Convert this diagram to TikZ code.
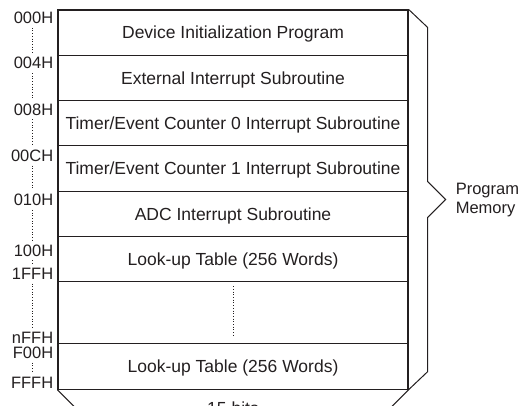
\documentclass[tikz,border=0pt]{standalone}
\usepackage{fontspec}
\setmainfont{Liberation Sans}
\usetikzlibrary{positioning,calc}
\definecolor{ink}{RGB}{35,31,32}

\begin{document}
\begin{tikzpicture}[x=1pt,y=-1pt,node distance=45.3pt,on grid,color=ink,
    cell/.style={draw=ink,line width=1.2pt,minimum width=350pt,minimum height=45.3pt,
        inner sep=0pt,text height=12.6pt,text depth=0pt,font=\fontsize{17.5}{21}\selectfont},
    addr/.style={inner sep=0pt,text height=12pt,text depth=0pt,font=\fontsize{16.5}{20}\selectfont},
    dots/.style={dotted,line width=0.7pt},
    brace/.style={line width=1pt,line join=miter}]
    \useasboundingbox (0,0) rectangle (522,406);
    \clip (0,0) rectangle (522,406);

    % memory rows
    \node[cell] (r_1) at (233,32.65) {Device Initialization Program};
    \node[cell] [below=of r_1] (r_2) {External Interrupt Subroutine};
    \node[cell] [below=of r_2] (r_3) {Timer/Event Counter 0 Interrupt Subroutine};
    \node[cell] [below=of r_3] (r_4) {Timer/Event Counter 1 Interrupt Subroutine};
    \node[cell] [below=of r_4] (r_5) {ADC Interrupt Subroutine};
    \node[cell] [below=of r_5] (r_6) {Look-up Table (256 Words)};
    \node[cell, minimum height=62pt] [below=53.65pt of r_6] (r_7) {};
    \node[cell] [below=53.65pt of r_7] (r_8) {Look-up Table (256 Words)};

    % addresses
    \node[addr, anchor=north east] (a_000) at ([shift={(-4,2)}]r_1.north west) {000H};
    \node[addr, anchor=north east] (a_004) at ([shift={(-4,2)}]r_2.north west) {004H};
    \node[addr, anchor=north east] (a_008) at ([shift={(-4,3)}]r_3.north west) {008H};
    \node[addr, anchor=north east] (a_00C) at ([shift={(-4,4)}]r_4.north west) {00CH};
    \node[addr, anchor=north east] (a_010) at ([shift={(-4,3)}]r_5.north west) {010H};
    \node[addr, anchor=north east] (a_100) at ([shift={(-4,8)}]r_6.north west) {100H};
    \node[addr, anchor=base east] (a_1FF) at ([shift={(-4,-3)}]r_6.south west) {1FFH};
    \node[addr, anchor=base east] (a_nFF) at ([shift={(-4,-1)}]r_7.south west) {nFFH};
    \node[addr, anchor=north east] (a_F00) at ([shift={(-4,3)}]r_8.north west) {F00H};
    \node[addr, anchor=base east] (a_FFF) at ([shift={(-4,-1)}]r_8.south west) {FFFH};

    \coordinate (dx) at ([xshift=-25pt]r_1.north west);
    \draw[dots] ([yshift=-4pt]a_000.south -| dx) -- ([yshift=4pt]a_004.north -| dx);
    \draw[dots] ([yshift=-4pt]a_004.south -| dx) -- ([yshift=4pt]a_008.north -| dx);
    \draw[dots] ([yshift=-4pt]a_008.south -| dx) -- ([yshift=4pt]a_00C.north -| dx);
    \draw[dots] ([yshift=-4pt]a_00C.south -| dx) -- ([yshift=4pt]a_010.north -| dx);
    \draw[dots] ([yshift=-4pt]a_010.south -| dx) -- ([yshift=4pt]a_100.north -| dx);
    \draw[dots] ([yshift=-4pt]a_100.south -| dx) -- ([yshift=4pt]a_1FF.north -| dx);
    \draw[dots] ([yshift=-4pt]a_1FF.south -| dx) -- ([yshift=4pt]a_nFF.north -| dx);
    \draw[dots] ([yshift=-4pt]a_F00.south -| dx) -- ([yshift=4pt]a_FFF.north -| dx);
    \draw[dots] ([yshift=-5pt]r_7.north) -- ([yshift=7pt]r_7.south);

    % braces
    \coordinate (tip) at ($(r_1.north east)!.5!(r_8.south east)+(37,0)$);
    \coordinate (btm) at ($(r_8.south west)!.5!(r_8.south east)$);
    \draw[brace] (r_1.north east) -- ++(19,18) -- ([shift={(-18,-18)}]tip) -- (tip)
        -- ([shift={(-18,18)}]tip) -- ([shift={(19,-18)}]r_8.south east) -- (r_8.south east);
    \draw[brace] (r_8.south east) -- ++(-30,30) -- ([shift={(18,30)}]btm) -- ([shift={(0,48)}]btm)
        -- ([shift={(-18,30)}]btm) -- ([shift={(30,30)}]r_8.south west) -- (r_8.south west);
    \node[addr, anchor=west, align=left, text height=, text depth=, font=\fontsize{16.5}{19}\selectfont]
        (pm) at ([xshift=10pt]tip) {Program\\Memory};
    \node[addr, anchor=north, font=\fontsize{17.5}{21}\selectfont] (bits) at ([yshift=-13pt]btm) {15 bits};
\end{tikzpicture}
\end{document}
